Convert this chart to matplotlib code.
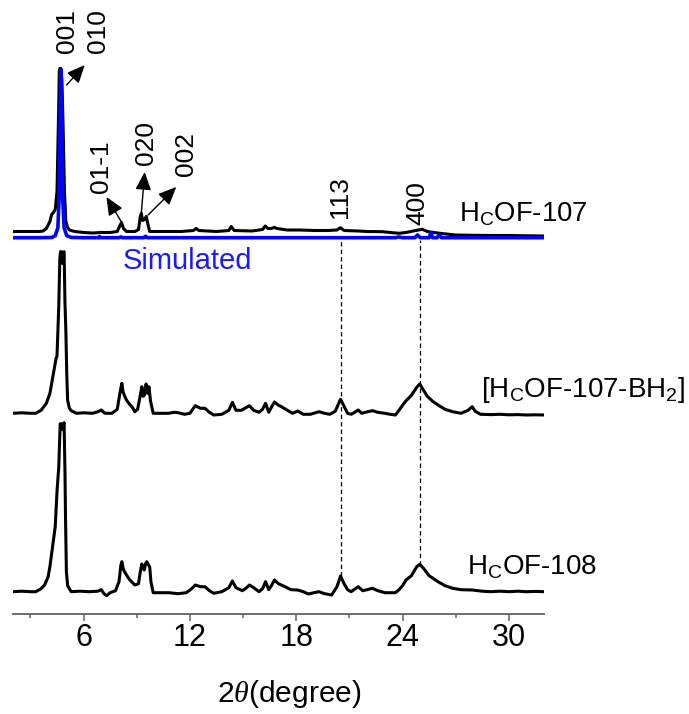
import numpy as np
import matplotlib
matplotlib.use("Agg")
import matplotlib.pyplot as plt
from matplotlib import font_manager

plt.rcParams["font.family"] = ["Liberation Sans", "DejaVu Sans"]
plt.rcParams["mathtext.fontset"] = "custom"
plt.rcParams["mathtext.rm"] = "Liberation Sans"
plt.rcParams["mathtext.it"] = "Liberation Serif:italic"

# ---------------- powder patterns (2theta in degree, intensity in a.u.) ----------------
cof108_2theta = [2.0, 2.5, 3.0, 3.3, 3.6, 3.8, 4.0, 4.1, 4.25, 4.4, 4.5, 4.6, 4.68, 4.74, 4.80,
                 4.85, 4.90, 4.95, 4.98, 5.03, 5.1, 5.3, 5.8, 6.3, 6.8, 7.0, 7.15, 7.3, 7.5, 7.8,
                 8.0, 8.1, 8.16, 8.25, 8.42, 8.6, 8.89, 9.1, 9.2, 9.29, 9.36, 9.43, 9.5, 9.57,
                 9.65, 9.73, 9.8, 9.93, 10.3, 10.8, 11.34, 11.8, 12.1, 12.3, 12.6, 12.85, 13.1,
                 13.35, 13.8, 14.2, 14.4, 14.6, 14.96, 15.2, 15.36, 15.6, 15.9, 16.1, 16.27,
                 16.45, 16.6, 16.77, 17.0, 17.37, 17.7, 18.08, 18.4, 18.68, 19.0, 19.28, 19.6,
                 20.0, 20.3, 20.5, 20.7, 20.9, 21.1, 21.5, 21.75, 22.0, 22.3, 22.6, 23.0, 23.6,
                 23.8, 24.0, 24.2, 24.5, 24.8, 24.97, 25.2, 25.5, 26.0, 26.4, 26.83, 27.3, 27.93,
                 28.5, 29.0, 29.5, 30.0, 30.5, 31.0, 31.5, 32.0]
cof108_int = [0, 0.5, 0, 0, 3, 6.7, 15, 25, 45, 65, 100, 125, 168, 168, 162,
              165, 169, 120, 75, 20, 6, 0, 0.5, 0, 0.5, 2, -2, -4, -1, 1,
              10, 26, 30, 22, 16.7, 12, 6.7, 8, 20, 27.7, 23, 21.7, 28, 30,
              27, 25, 10, -1, -1, -1, -2, -1, 3, 6.7, 5, 5, 1,
              -1.6, 0, 4, 10.7, 4, 1, 4, 6.7, 4, 0, 3, 10,
              2, 6, 11.7, 8, 5, 2, 1.7, 0, -2.3, -1, 0, -2,
              -3.3, 5, 15.7, 8, 2, 0, 5, 1, 2, 3.4, 1, -1, -1,
              2, 6, 11.7, 16, 25, 27.4, 23, 16, 10, 6, 3.4, 2, 1.7,
              0.5, 0, 0.5, 0, 0.5, 0, 0.3, 0]

bh2_2theta = [2.0, 2.5, 3.0, 3.3, 3.6, 3.9, 4.1, 4.3, 4.45, 4.5, 4.6, 4.66, 4.70, 4.76, 4.80,
              4.86, 4.90, 4.95, 5.0, 5.05, 5.1, 5.2, 5.3, 5.6, 6.0, 6.5, 6.8, 7.0, 7.2, 7.6,
              7.9, 8.05, 8.16, 8.22, 8.3, 8.42, 8.6, 8.75, 8.89, 9.05, 9.2, 9.29, 9.36, 9.43,
              9.5, 9.53, 9.6, 9.69, 9.78, 9.93, 10.3, 10.8, 11.1, 11.34, 11.7, 12.0, 12.3,
              12.6, 12.85, 13.1, 13.35, 13.8, 14.2, 14.4, 14.6, 14.9, 15.2, 15.36, 15.6, 15.9,
              16.1, 16.27, 16.45, 16.6, 16.77, 17.0, 17.17, 17.5, 17.8, 18.08, 18.4, 18.8,
              19.28, 19.6, 19.9, 20.2, 20.4, 20.5, 20.7, 20.9, 21.1, 21.3, 21.5, 21.7, 21.9,
              22.3, 22.6, 23.0, 23.3, 23.6, 23.8, 24.0, 24.2, 24.5, 24.8, 24.97, 25.15, 25.4,
              25.7, 26.0, 26.4, 26.83, 27.3, 27.7, 27.93, 28.1, 28.4, 29.0, 29.5, 30.0, 30.5,
              31.0, 31.5, 32.0]
bh2_int = [0, 0.5, 0, 0, 3, 10, 20, 40, 55, 57, 107, 155, 161.6, 161.6, 150,
           160, 161.6, 110, 83, 40, 13, 5, 2.6, 0, 0.5, 0, 1.5, 3.3, 0, 0,
           4, 20, 30, 22, 18, 13.3, 9, 6, 1.6, 4, 18, 26.6, 17, 18.3,
           26, 29.3, 20, 26.6, 12, 0, 0, 0, 1, 0.6, -1, 0, 7.6,
           5, 5, 1, -1.7, -1, 3, 11, 3, 3, 6, 7.6, 3, 1,
           4, 10, 1, 6, 11.3, 8, 6.6, 3, 0, 2.3, -1, -1,
           1.6, 0, -1, 2, 10, 14, 7, 0, -1, 1, 3.3, 0, 1,
           2.6, 1, 0, -1, -1.7, 3, 8, 12.6, 18, 26, 29.3, 24, 17,
           12, 8.3, 4, 1.6, 0, 3, 6.6, 2, -1, -1.3, -1, -1.5, -1.3,
           -1.7, -1.5, -1.7]

cof107_2theta = [2.0, 2.5, 3.0, 3.5, 3.72, 3.9, 4.1, 4.2, 4.3, 4.4, 4.5, 4.58, 4.63, 4.66, 4.72,
                 4.78, 4.85, 4.92, 5.0, 5.1, 5.2, 5.5, 6.0, 6.5, 7.0, 7.5, 7.9, 8.05, 8.14, 8.25,
                 8.42, 8.9, 9.1, 9.2, 9.26, 9.33, 9.39, 9.47, 9.54, 9.62, 9.73, 10.5, 11.5, 12.2,
                 12.36, 12.5, 13.5, 14.2, 14.33, 14.5, 15.5, 16.1, 16.25, 16.4, 16.6, 16.77, 16.9,
                 17.5, 18.2, 19.0, 19.8, 20.3, 20.49, 20.7, 21.5, 22.0, 22.87, 23.3, 23.8, 24.2,
                 24.6, 24.9, 25.12, 25.4, 25.68, 26.2, 27.0, 28.0, 29.0, 30.0, 31.0, 32.0]
cof107_int = [0, 0, 0, 0, 0.5, 3, 10, 17, 19, 22, 40, 110, 160, 163, 163,
              150, 100, 40, 10, 4, 1.5, 0, -1, -1.5, -1, -1, 0, 6, 9, 3,
              0, 0, 2, 15, 18, 11, 11.5, 13, 15, 8, 0, 0, 0, 1,
              3, 1, 0, 1, 5, 1, 0.5, 2, 5.5, 3, 3, 4.2, 3,
              1.5, 1.5, 1, 1, 1.5, 3.8, 1, 0.5, 0, -0.2, -1, -1.8, -1,
              0.5, 1.5, 2.2, 0, -0.8, -2, -3.5, -3.8, -4, -4, -4.3, -4.5]

sim_2theta = [2.0, 3.5, 4.2, 4.4, 4.55, 4.62, 4.67, 4.72, 4.77, 4.82, 4.9, 5.05, 5.3, 6.0,
              6.85, 6.9, 6.95, 8.0, 8.1, 8.2, 9.4, 9.5, 9.6, 12.0, 16.0, 23.6, 23.8, 24.0,
              24.7, 24.84, 25.0, 25.5, 25.6, 25.7, 25.95, 26.06, 26.2, 32.0]
sim_int = [0, 0, 0.2, 2, 10, 40, 110, 168, 110, 40, 10, 2, 0.3, 0,
           0, 1.2, 0, 0, 0.8, 0, 0, 1.5, 0, 0, 0, 0, 0.8, 0,
           0, 2.7, 0, 0, 5, 0, 0, 2.7, 0, 0]

# vertical offsets of the stacked patterns
offset_108 = 22.3
offset_bh2 = 200.7
offset_107 = 382.5
offset_sim = 376.3

# reflection labels: (text, label x, label bottom y)
hkl_labels = [("001", 5.05, 561), ("010", 6.84, 561), ("01-1", 7.01, 421),
              ("020", 9.52, 449), ("002", 11.8, 438), ("113", 20.46, 396),
              ("400", 24.84, 389)]
# arrows from peak tops to labels: (x_from, y_from, x_to, y_to)
hkl_arrows = [(5.04, 529, 6.07, 549), (8.14, 392, 7.29, 417),
              (9.26, 401, 9.45, 442), (9.64, 399, 11.23, 427)]
# reflections followed through the stack
guide_2theta = [20.5, 25.0]

# ---------------- figure ----------------
fig = plt.figure(figsize=(6.89, 7.14), dpi=100)
ax = fig.add_axes([0.01843, 0.14006, 0.77155, 0.85994])
ax.set_xlim(2, 32)
ax.set_ylim(0, 614)

lw_black = 2.2
ax.plot(cof108_2theta, np.array(cof108_int) + offset_108, color="black", lw=lw_black)
ax.plot(bh2_2theta, np.array(bh2_int) + offset_bh2, color="black", lw=lw_black)
ax.plot(cof107_2theta, np.array(cof107_int) + offset_107, color="black", lw=lw_black)
ax.plot(sim_2theta, np.array(sim_int) + offset_sim, color="#0000ff", lw=2.6)

for x in guide_2theta:
    y_low = np.interp(x, cof108_2theta, cof108_int) + offset_108
    ax.plot([x, x], [y_low, 374], color="black", lw=0.9, ls=(0, (3.5, 2.5)))

for txt, x, y in hkl_labels:
    ax.text(x, y, txt, rotation=90, ha="center", va="bottom", fontsize=19)

for x0, y0, x1, y1 in hkl_arrows:
    ax.annotate("", xy=(x1, y1), xytext=(x0, y0),
                arrowprops=dict(arrowstyle="-|>,head_length=0.5,head_width=0.22",
                                mutation_scale=22, lw=1.0, color="black",
                                shrinkA=0, shrinkB=0))

ax.text(27.19, 392.3, r"H$\mathregular{_C}$OF-107", fontsize=19.8, ha="left", va="baseline")
ax.text(8.21, 344.7, "Simulated", fontsize=21, color="#1a1aff", ha="left", va="baseline")
ax.text(28.41, 217.3, r"[H$\mathregular{_C}$OF-107-BH$\mathregular{_2}$]", fontsize=20,
        ha="left", va="baseline")
ax.text(27.64, 39, r"H$\mathregular{_C}$OF-108", fontsize=20, ha="left", va="baseline")

# axis styling
for side in ("top", "left", "right"):
    ax.spines[side].set_visible(False)
ax.spines["bottom"].set_color("#606060")
ax.spines["bottom"].set_linewidth(1.3)
ax.set_yticks([])
ax.set_xticks([6, 12, 18, 24, 30])
ax.set_xticks([3, 9, 15, 21, 27], minor=True)

names = {f.name for f in font_manager.fontManager.ttflist}
if "Liberation Sans Narrow" in names:
    tick_family, tick_size = "Liberation Sans Narrow", 25
else:
    tick_family, tick_size = "Liberation Sans", 22
ax.tick_params(axis="x", which="major", direction="out", length=5, width=1.1,
               color="#606060", pad=1.8, labelsize=tick_size)
ax.tick_params(axis="x", which="minor", direction="out", length=3, width=1.1,
               color="#606060")
for lab in ax.get_xticklabels():
    lab.set_family(tick_family)

ax.set_xlabel(r"2$\mathit{\theta}$(degree)", fontsize=21.5)
ax.xaxis.set_label_coords(0.521, -0.105)

fig.savefig("out.png", dpi=100)
